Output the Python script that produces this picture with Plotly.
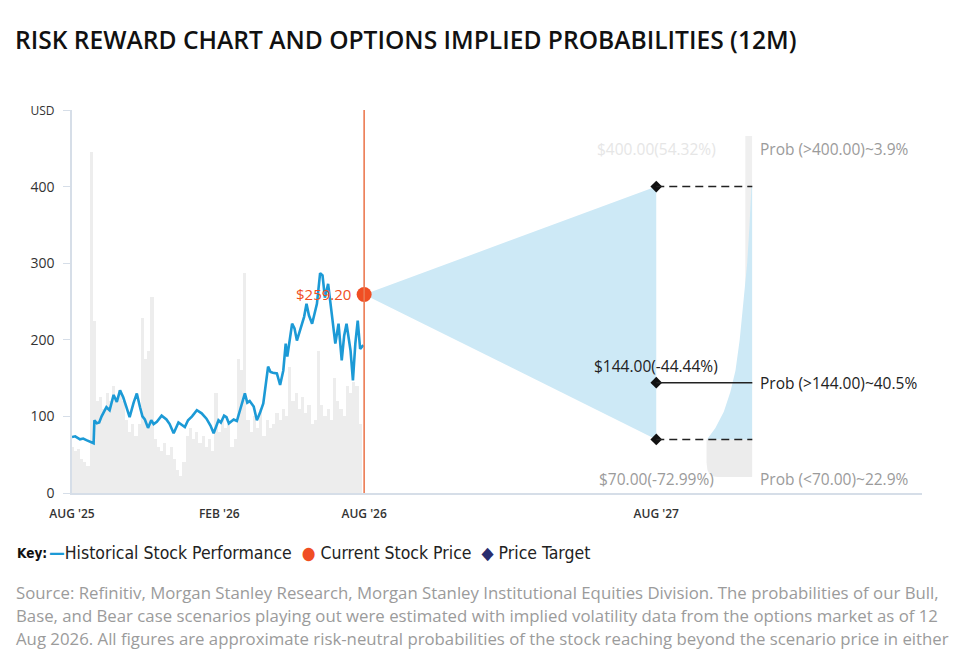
import pandas as pd
import plotly.graph_objects as go

# ---------------------------------------------------------------- data
price_dates = [
    "2025-08-12", "2025-08-16", "2025-08-22", "2025-08-26", "2025-08-30", "2025-09-06",
    "2025-09-08", "2025-09-09", "2025-09-12", "2025-09-15", "2025-09-18", "2025-09-24",
    "2025-09-28", "2025-10-03", "2025-10-07", "2025-10-11", "2025-10-15", "2025-10-19",
    "2025-10-23", "2025-10-28", "2025-11-01", "2025-11-05", "2025-11-08", "2025-11-11",
    "2025-11-15", "2025-11-19", "2025-11-22", "2025-11-26", "2025-12-02", "2025-12-08",
    "2025-12-12", "2025-12-17", "2025-12-23", "2025-12-31", "2026-01-04", "2026-01-09",
    "2026-01-15", "2026-01-21", "2026-01-27", "2026-02-01", "2026-02-05", "2026-02-11",
    "2026-02-14", "2026-02-18", "2026-02-21", "2026-02-24", "2026-03-02", "2026-03-06",
    "2026-03-10", "2026-03-16", "2026-03-19", "2026-03-22", "2026-03-27", "2026-03-31",
    "2026-04-04", "2026-04-08", "2026-04-14", "2026-04-17", "2026-04-20", "2026-04-25",
    "2026-04-29", "2026-05-03", "2026-05-06", "2026-05-08", "2026-05-14", "2026-05-17",
    "2026-05-20", "2026-05-24", "2026-05-29", "2026-06-01", "2026-06-04", "2026-06-08",
    "2026-06-11", "2026-06-14", "2026-06-18", "2026-06-21", "2026-06-24", "2026-06-28",
    "2026-07-03", "2026-07-07", "2026-07-11", "2026-07-15", "2026-07-18", "2026-07-21",
    "2026-07-26", "2026-07-29", "2026-08-01", "2026-08-04", "2026-08-07", "2026-08-11",
]
price_values = [
    73, 74, 70, 71, 69, 66,
    65, 95, 91, 92, 100, 112,
    108, 128, 119, 134, 125, 112,
    99, 118, 130, 112, 100, 96,
    85, 95, 90, 93, 101, 96,
    90, 78, 92, 86, 95, 100,
    108, 104, 97, 88, 78, 95,
    92, 101, 99, 91, 96, 94,
    108, 130, 118, 120, 113, 95,
    105, 117, 165, 158, 157, 156,
    141, 160, 195, 178, 221, 215,
    199, 212, 230, 247, 232, 221,
    234, 247, 287, 284, 255, 273,
    230, 195, 221, 173, 205, 221,
    186, 147, 195, 225, 188, 193,
]

# light grey background series (every 4 days)
volume_values = [
    60, 55, 58, 45, 40, 35, 445, 225, 120, 125,
    110, 130, 120, 140, 125, 135, 120, 95, 80, 90,
    75, 90, 228, 175, 185, 256, 70, 60, 55, 65,
    50, 60, 45, 30, 22, 40, 75, 85, 70, 80,
    65, 75, 60, 70, 55, 130, 80, 95, 85, 90,
    60, 70, 175, 160, 287, 95, 80, 100, 85, 110,
    75, 95, 85, 90, 105, 95, 110, 100, 165, 120,
    130, 110, 125, 105, 115, 90, 95, 185, 115, 100,
    110, 95, 150, 120, 110, 100, 140, 130, 145, 140,
    90,
]
volume_dates = pd.date_range("2025-08-12", periods=len(volume_values), freq="4D")

current_date = "2026-08-12"
current_price = 259.20
target_date = "2027-08-12"
bull_price, base_price, bear_price = 400.00, 144.00, 70.00
bull_prob, base_prob, bear_prob = 3.9, 40.5, 22.9

# implied distribution (relative width of the density strip)
dens_prices = [400, 350, 300, 250, 200, 160, 132, 106, 85, 70]
dens_widths = [0.02, 0.06, 0.11, 0.19, 0.27, 0.36, 0.47, 0.61, 0.79, 0.97]
tail_prices = [70, 40, 30, 25, 22, 21]
tail_widths = [0.98, 0.98, 0.96, 0.92, 0.85, 0.75]
strip_prices = [22, 466]
strip_width = 0.15

tick_dates = ["2025-08-12", "2026-02-12", "2026-08-12", "2027-08-12"]
tick_text = ["AUG '25", "FEB '26", "AUG '26", "AUG '27"]

source_lines = [
    "Source: Refinitiv, Morgan Stanley Research, Morgan Stanley Institutional Equities Division. The probabilities of our Bull,",
    "Base, and Bear case scenarios playing out were estimated with implied volatility data from the options market as of 12",
    "Aug 2026. All figures are approximate risk-neutral probabilities of the stock reaching beyond the scenario price in either",
]

# ---------------------------------------------------------------- layout helpers
X_START, X_END = pd.Timestamp("2025-08-12"), pd.Timestamp("2028-07-09")
STRIP_END = pd.Timestamp("2027-12-10")
strip_right = (STRIP_END - X_START) / (X_END - X_START)
strip_left = strip_right - 0.055

BLUE = "#1c9ad6"
ORANGE = "#f04e23"
CONE = "#cde9f6"
GREY_TXT = "#9b9b9b"
AXIS = "#d6dee8"

fig = go.Figure()

fig.add_trace(go.Bar(
    x=volume_dates, y=volume_values, marker=dict(color="#ededed", line=dict(width=0)),
    hoverinfo="skip",
))

fig.add_trace(go.Scatter(  # projection cone
    x=[current_date, target_date, target_date, current_date],
    y=[current_price, bull_price, bear_price, current_price],
    fill="toself", fillcolor=CONE, mode="lines", line=dict(width=0),
))

fig.add_trace(go.Scatter(
    x=price_dates, y=price_values, mode="lines", line=dict(color=BLUE, width=2.6),
))

fig.add_trace(go.Scatter(
    x=[target_date] * 3, y=[bull_price, base_price, bear_price], mode="markers",
    marker=dict(symbol="diamond", size=9, color="#111111"),
))

fig.add_shape(type="line", x0=current_date, x1=current_date, y0=0, y1=1,
              xref="x", yref="y domain", line=dict(color="#ec7a52", width=1.6))

fig.add_trace(go.Scatter(
    x=[current_date], y=[current_price], mode="markers",
    marker=dict(size=15, color=ORANGE),
))

# distribution strip (own x axis, reversed so it grows to the left)
fig.add_trace(go.Scatter(
    x=[strip_width, strip_width, 0, 0], y=[strip_prices[0], strip_prices[1], strip_prices[1], strip_prices[0]],
    xaxis="x2", fill="toself", fillcolor="#efefef", mode="lines", line=dict(width=0),
))
fig.add_trace(go.Scatter(
    x=[0] + tail_widths + [0], y=[tail_prices[0]] + tail_prices + [tail_prices[-1]],
    xaxis="x2", fill="toself", fillcolor="#ececec", mode="lines", line=dict(width=0),
))
fig.add_trace(go.Scatter(
    x=[0] + dens_widths + [0], y=[dens_prices[0]] + dens_prices + [dens_prices[-1]],
    xaxis="x2", fill="toself", fillcolor=CONE, mode="lines", line=dict(width=0),
))

# connectors from targets to the distribution strip, drawn above everything
for p, dash in [(bull_price, "8px,5px"), (base_price, "solid"), (bear_price, "8px,5px")]:
    fig.add_shape(type="line", xref="x", yref="y", x0=target_date, x1=STRIP_END, y0=p, y1=p,
                  layer="above", line=dict(color="#222222", width=1.5, dash=dash))

# ---------------------------------------------------------------- annotations
LBL = "Open Sans"
ann = [
    dict(x=current_date, y=current_price, text=f"${current_price:.2f}", xanchor="right",
         xshift=-11, font=dict(color=ORANGE, size=15)),
    dict(x=target_date, y=base_price, text=f"${base_price:.2f}({(base_price / current_price - 1) * 100:.2f}%)",
         yshift=17, font=dict(color="#222222", size=15.5)),
    dict(x=target_date, y=18, text=f"${bear_price:.2f}({(bear_price / current_price - 1) * 100:.2f}%)",
         font=dict(color=GREY_TXT, size=15.5)),
    dict(x=target_date, y=449, text=f"${bull_price:.2f}({(bull_price / current_price - 1) * 100:.2f}%)",
         font=dict(color="#e6e6e6", size=15.5)),
    dict(x=0, xref="x2", y=449, text=f"Prob (>{bull_price:.2f})~{bull_prob}%", xanchor="left",
         xshift=6, font=dict(color=GREY_TXT, size=15.5)),
    dict(x=0, xref="x2", y=base_price, text=f"Prob (>{base_price:.2f})~{base_prob}%", xanchor="left",
         xshift=6, font=dict(color="#222222", size=15.5)),
    dict(x=0, xref="x2", y=18, text=f"Prob (<{bear_price:.2f})~{bear_prob}%", xanchor="left",
         xshift=6, font=dict(color=GREY_TXT, size=15.5)),
]
for a in ann:
    a.setdefault("xref", "x")
    a["yref"] = "y"
    a["showarrow"] = False
    a["font"].setdefault("family", LBL)


def px_x(px):
    return (px - 72) / 850


def px_y(py):
    return (493 - py) / 383


NARROW = "Liberation Sans Narrow, DejaVu Sans Condensed, Roboto"
ann.append(dict(x=px_x(15), y=px_y(553), xref="paper", yref="paper", xanchor="left", yanchor="middle",
                showarrow=False, text="<b>Key:</b>", font=dict(family=NARROW, size=13.5, color="#111111")))
ann.append(dict(
    x=px_x(47), y=px_y(553), xref="paper", yref="paper", xanchor="left", yanchor="middle", showarrow=False,
    text=(f"<span style='color:{BLUE}'><b>—</b></span>Historical Stock Performance  "
          f"<span style='color:{ORANGE}'>●</span> Current Stock Price  "
          "<span style='color:#2b2d6e'>◆</span> Price Target"),
    font=dict(family=NARROW, size=17.5, color="#222222"),
))
for i, line in enumerate(source_lines):
    ann.append(dict(x=px_x(14), y=px_y(592 + 23 * i), xref="paper", yref="paper", xanchor="left",
                    yanchor="middle", showarrow=False, text=line,
                    font=dict(family="Open Sans", size=16.8, color=GREY_TXT)))

fig.update_layout(
    width=960, height=655,
    margin=dict(l=72, r=38, t=110, b=162),
    paper_bgcolor="white", plot_bgcolor="rgba(0,0,0,0)",
    showlegend=False, bargap=0, hovermode="closest",
    title=dict(
        text="RISK REWARD CHART AND OPTIONS IMPLIED PROBABILITIES (12M)",
        x=15 / 960, xref="container", xanchor="left",
        y=1 - 40 / 655, yref="container", yanchor="middle",
        font=dict(family="Open Sans", size=24.6, weight=600, color="#111111"),
    ),
    xaxis=dict(
        type="date", range=[X_START, X_END], tickvals=tick_dates, ticktext=tick_text,
        showgrid=False, showline=True, linecolor=AXIS, linewidth=1.5,
        ticks="outside", ticklen=9, tickcolor="rgba(0,0,0,0)",
        tickfont=dict(family="Open Sans", size=12, weight=600, color="#333333"),
        zeroline=False,
    ),
    xaxis2=dict(domain=[strip_left, strip_right], range=[1, 0], anchor="y", visible=False,
                showgrid=False, zeroline=False),
    yaxis=dict(
        range=[0, 500], tickvals=[0, 100, 200, 300, 400, 500],
        ticktext=["0", "100", "200", "300", "400", "<span style='font-size:12px'>USD</span>"],
        showgrid=False, showline=True, linecolor=AXIS, linewidth=1.5,
        ticks="outside", ticklen=7, tickcolor=AXIS, zeroline=False, ticklabelstandoff=6,
        tickfont=dict(family="Open Sans", size=14, color="#333333"),
    ),
    annotations=ann,
)

fig.write_html("out.html", config={"displayModeBar": False},
               post_script="document.body.style.margin='0';")
